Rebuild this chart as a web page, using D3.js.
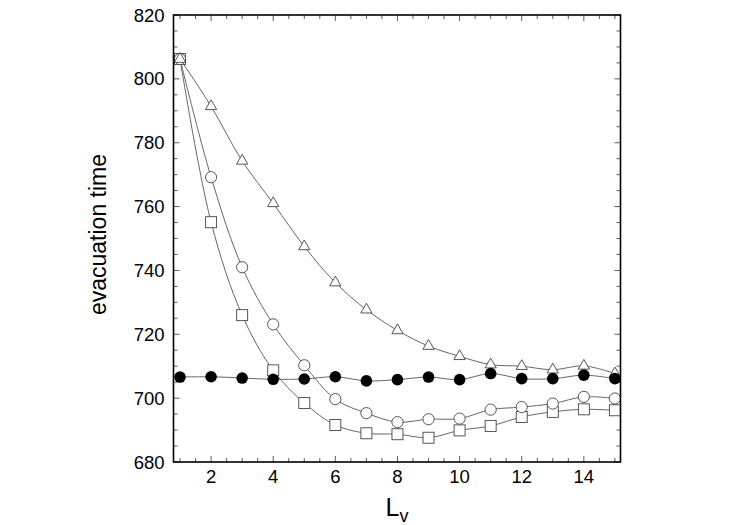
<!DOCTYPE html>
<html><head><meta charset="utf-8">
<script src="https://cdn.jsdelivr.net/npm/d3@7"></script>
<style>body{margin:0;background:#fff}svg{display:block}text{font-family:"Liberation Sans",Arial,sans-serif;fill:#000}</style>
</head><body><svg id="c" width="750" height="525"></svg>
<script>
const xs = [1,2,3,4,5,6,7,8,9,10,11,12,13,14,15];
const filled = [706.6,706.7,706.3,705.9,706.0,706.7,705.4,705.8,706.6,705.8,707.7,706.1,706.1,707.2,706.1];
const squares = [806.2,755.1,726.0,708.7,698.5,691.6,689.0,688.7,687.6,689.9,691.3,694.1,695.7,696.5,696.2];
const circles = [806.2,769.2,741.0,723.1,710.3,699.7,695.3,692.5,693.4,693.6,696.4,697.2,698.3,700.4,699.9];
const triangles = [806.2,791.4,774.3,761.0,747.5,736.2,727.7,721.2,716.3,713.1,710.5,710.0,708.9,710.1,707.7];
const xTicks = [2,4,6,8,10,12,14];
const yTicks = [680,700,720,740,760,780,800,820];

const svg = d3.select("#c");
const L=173.5, R=620.5, T=15, B=462;
const x = d3.scaleLinear().domain([0.79,15.18]).range([L,R]);
const y = d3.scaleLinear().domain([680,820]).range([B,T]);

const line = d3.line().x((d,i)=>x(xs[i])).y(d=>y(d)).curve(d3.curveCatmullRom.alpha(0.5));
const lc = "#555";

const g = svg.append("g");
const tk = (x1,y1,x2,y2)=>g.append("line").attr("x1",x1).attr("y1",y1).attr("x2",x2).attr("y2",y2).attr("stroke","#333").attr("stroke-width",0.8);
d3.range(1,15.01,0.5).forEach(v=>{const len=(v%2===0)?6:4; tk(x(v),B,x(v),B-len); tk(x(v),T,x(v),T+len);});
d3.range(680,820.1,5).forEach(v=>{const len=(v%20===0)?6:4; tk(L,y(v),L+len,y(v)); tk(R,y(v),R-len,y(v));});

[filled,squares,circles,triangles].forEach(s=>{
  svg.append("path").attr("d",line(s)).attr("fill","none").attr("stroke",lc).attr("stroke-width",0.9);
});

const mstroke="#444";
svg.append("g").selectAll("rect").data(squares).join("rect")
 .attr("x",(d,i)=>x(xs[i])-5.5).attr("y",d=>y(d)-5.5).attr("width",11).attr("height",11)
 .attr("fill","#fff").attr("stroke",mstroke).attr("stroke-width",0.9);
svg.append("g").selectAll("circle").data(circles).join("circle")
 .attr("cx",(d,i)=>x(xs[i])).attr("cy",d=>y(d)).attr("r",5.6)
 .attr("fill","#fff").attr("stroke",mstroke).attr("stroke-width",0.9);
const tri = d3.symbol().type(d3.symbolTriangle).size(55);
svg.append("g").selectAll("path").data(triangles).join("path")
 .attr("d",tri).attr("transform",(d,i)=>`translate(${x(xs[i])},${y(d)})`)
 .attr("fill","#fff").attr("stroke",mstroke).attr("stroke-width",0.9);
svg.append("g").selectAll("circle").data(filled).join("circle")
 .attr("cx",(d,i)=>x(xs[i])).attr("cy",d=>y(d)).attr("r",5.8)
 .attr("fill","#000");

svg.append("rect").attr("x",L).attr("y",T).attr("width",R-L).attr("height",B-T)
 .attr("fill","none").attr("stroke","#000").attr("stroke-width",1.6);

svg.append("g").selectAll("text").data(xTicks).join("text")
 .attr("x",d=>x(d)).attr("y",B+21).attr("text-anchor","middle").attr("font-size",18.5).text(d=>d);
svg.append("g").selectAll("text").data(yTicks).join("text")
 .attr("x",L-9).attr("y",d=>y(d)+6.5).attr("text-anchor","end").attr("font-size",18.5).text(d=>d);

svg.append("text").attr("transform",`translate(106,${(T+B)/2-4}) rotate(-90)`)
 .attr("text-anchor","middle").attr("font-size",23).text("evacuation time");
const xt = svg.append("text").attr("x",(L+R)/2).attr("y",516).attr("text-anchor","middle").attr("font-size",25);
xt.append("tspan").text("L");
xt.append("tspan").attr("font-size",18).attr("dy",6).text("v");
</script></body></html>
